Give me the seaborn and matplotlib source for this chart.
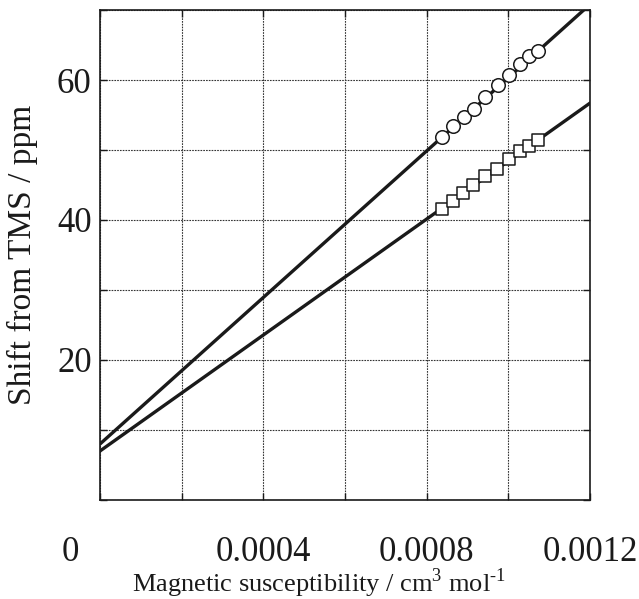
import numpy as np
import pandas as pd
import matplotlib
matplotlib.use("Agg")
import matplotlib.pyplot as plt
import matplotlib.transforms as mtransforms
import seaborn as sns

# Measured points: chemical shift vs. magnetic susceptibility
chi_circles = [0.000838, 0.000864, 0.000891, 0.000916, 0.000943,
               0.000975, 0.001002, 0.001029, 0.001051, 0.001073]
shift_circles = [51.9, 53.4, 54.7, 55.9, 57.6, 59.3, 60.7, 62.3, 63.4, 64.2]

chi_squares = [0.000838, 0.000864, 0.000889, 0.000914, 0.000943,
               0.000972, 0.001002, 0.001029, 0.001051, 0.001073]
shift_squares = [41.6, 42.7, 43.8, 45.0, 46.3, 47.3, 48.7, 49.9, 50.6, 51.4]

# Linear fits extrapolated over the full susceptibility range
fit_chi = [0.0, 0.0012]
fit_circles = [8.0, 70.8]
fit_squares = [7.0, 56.7]

x_ticks = [0.0, 0.0002, 0.0004, 0.0006, 0.0008, 0.0010, 0.0012]
x_ticklabels = ["0", "", "0.0004", "", "0.0008", "", "0.0012"]
y_ticks = [0, 10, 20, 30, 40, 50, 60, 70]
y_ticklabels = ["", "", "20", "", "40", "", "60", ""]

sns.set_theme(style="ticks")
plt.rcParams["font.family"] = ["Liberation Serif", "DejaVu Serif"]
plt.rcParams["mathtext.fontset"] = "custom"
plt.rcParams["mathtext.rm"] = "Liberation Serif"

fig = plt.figure(figsize=(6.39, 5.99), dpi=100)
ax = fig.add_axes([0.1565, 0.1653, 0.7668, 0.818])

fits = pd.DataFrame({
    "chi": fit_chi * 2,
    "shift": fit_circles + fit_squares,
    "series": ["circle"] * 2 + ["square"] * 2,
})
sns.lineplot(data=fits, x="chi", y="shift", units="series", estimator=None,
             color="#1a1a1a", linewidth=2.4, ax=ax, zorder=3, legend=False)

pts_c = pd.DataFrame({"chi": chi_circles, "shift": shift_circles})
pts_s = pd.DataFrame({"chi": chi_squares, "shift": shift_squares})
sns.scatterplot(data=pts_c, x="chi", y="shift", marker="o", s=95,
                facecolor="white", edgecolor="#1a1a1a", linewidth=1.1,
                ax=ax, zorder=4)
sns.scatterplot(data=pts_s, x="chi", y="shift", marker="s", s=85,
                facecolor="white", edgecolor="#1a1a1a", linewidth=1.1,
                ax=ax, zorder=4)

ax.set_xlim(0, 0.0012)
ax.set_ylim(0, 70)
ax.set_xticks(x_ticks)
ax.set_xticklabels(x_ticklabels)
ax.set_yticks(y_ticks)
ax.set_yticklabels(y_ticklabels)

ax.grid(True, linestyle=(0, (1.5, 1.0)), linewidth=0.8, color="#333333")
ax.tick_params(axis="both", which="major", direction="in", length=5,
               width=1.0, color="#1a1a1a", top=True, right=True,
               labelsize=25, labelcolor="#1a1a1a")
ax.tick_params(axis="x", pad=26)
ax.tick_params(axis="y", pad=6)
for sp in ax.spines.values():
    sp.set_linewidth(1.2)
    sp.set_color("#1a1a1a")
    sp.set_visible(True)

# shift the origin label left of the axis corner
offset = mtransforms.ScaledTranslation(-0.30, 0, fig.dpi_scale_trans)
lbl0 = ax.get_xticklabels()[0]
lbl0.set_transform(lbl0.get_transform() + offset)

ax.set_xlabel(r"Magnetic susceptibility / cm$^{\text{3}}$ mol$^{\text{-1}}$",
              fontsize=19, color="#1a1a1a", va="center")
ax.xaxis.set_label_coords(0.447, -0.170)
ax.set_ylabel("Shift from TMS / ppm", fontsize=24, color="#1a1a1a", va="center")
ax.yaxis.set_label_coords(-0.159, 0.5)

fig.savefig("out.png", dpi=100)
